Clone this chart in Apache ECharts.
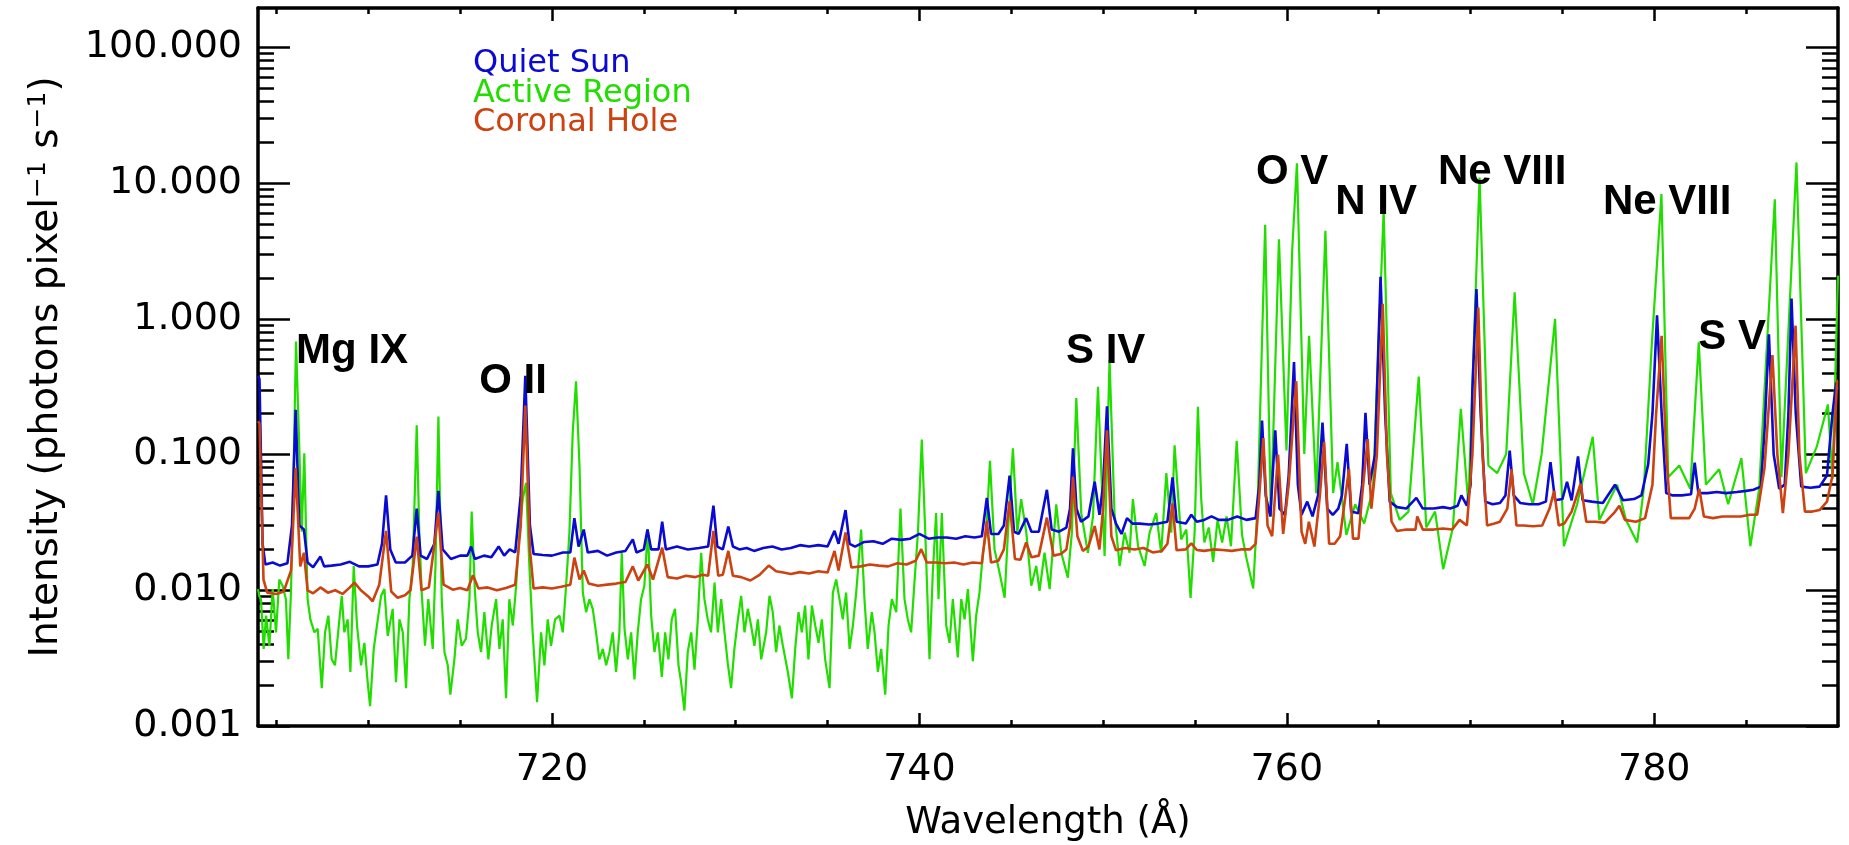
<!DOCTYPE html>
<html>
<head>
<meta charset="utf-8">
<title>EUV spectrum</title>
<script src="https://cdn.jsdelivr.net/npm/echarts@6/dist/echarts.min.js"></script>
<style>
  html, body { margin: 0; padding: 0; background: #fff; }
  #J-spectrum { width: 1849px; height: 845px; }
</style>
</head>
<body>
<div id="J-spectrum"></div>
<script>
// wavelength (Å), intensity (photons pixel^-1 s^-1)
const quietSun = [
  [704.0,0.38],[704.08,0.36],[704.25,0.022],[704.4,0.0155],[704.8,0.016],[705.2,0.0152],[705.6,0.0158],[705.85,0.03],
  [706.05,0.214],[706.25,0.03],[706.5,0.028],[706.7,0.016],[707.0,0.0148],[707.4,0.0177],[707.6,0.015],[708.0,0.0152],
  [708.5,0.0155],[709.0,0.0162],[709.5,0.015],[710.0,0.015],[710.5,0.0155],[710.75,0.022],[710.97,0.05],[711.2,0.02],
  [711.5,0.016],[712.0,0.016],[712.4,0.018],[712.64,0.04],[712.85,0.018],[713.2,0.017],[713.6,0.022],[713.82,0.054],
  [714.05,0.02],[714.5,0.017],[715.0,0.018],[715.4,0.018],[715.6,0.021],[715.8,0.017],[716.3,0.018],[716.7,0.0175],
  [717.1,0.021],[717.4,0.018],[717.7,0.02],[718.0,0.019],[718.3,0.05],[718.55,0.38],[718.8,0.03],[719.0,0.0185],
  [719.5,0.0182],[720.0,0.018],[720.6,0.019],[721.0,0.019],[721.22,0.034],[721.45,0.021],[721.73,0.028],[721.95,0.019],
  [722.5,0.0195],[723.0,0.018],[723.5,0.019],[724.0,0.0195],[724.4,0.0237],[724.6,0.019],[725.0,0.02],[725.2,0.028],
  [725.4,0.02],[725.8,0.02],[726.0,0.032],[726.2,0.02],[726.8,0.021],[727.4,0.02],[728.0,0.0205],[728.5,0.021],
  [728.79,0.042],[729.0,0.021],[729.3,0.02],[729.6,0.0295],[729.85,0.021],[730.2,0.02],[730.6,0.0205],[731.0,0.0195],
  [731.5,0.0205],[732.0,0.021],[732.5,0.02],[733.0,0.0205],[733.5,0.0215],[734.0,0.021],[734.5,0.0215],[735.0,0.021],
  [735.38,0.0274],[735.6,0.022],[735.98,0.039],[736.2,0.022],[736.5,0.021],[737.0,0.0227],[737.5,0.023],[738.0,0.022],
  [738.5,0.024],[739.0,0.0235],[739.5,0.024],[740.0,0.026],[740.5,0.024],[741.0,0.0245],[741.5,0.0245],[742.0,0.024],
  [742.5,0.025],[743.0,0.0245],[743.4,0.025],[743.67,0.048],[743.9,0.026],[744.3,0.026],[744.6,0.03],[744.91,0.07],
  [745.15,0.027],[745.4,0.026],[745.81,0.034],[746.1,0.027],[746.5,0.027],[746.94,0.055],[747.2,0.028],[747.6,0.027],
  [748.0,0.029],[748.2,0.04],[748.36,0.111],[748.55,0.04],[748.8,0.032],[749.2,0.035],[749.54,0.063],[749.8,0.036],
  [750.0,0.06],[750.21,0.227],[750.45,0.04],[750.7,0.031],[751.0,0.026],[751.3,0.034],[751.6,0.031],[752.0,0.031],
  [752.5,0.0305],[753.0,0.031],[753.5,0.032],[753.78,0.068],[754.0,0.032],[754.5,0.031],[754.8,0.036],[755.1,0.032],
  [755.5,0.033],[755.9,0.035],[756.3,0.033],[756.8,0.033],[757.3,0.035],[757.8,0.033],[758.3,0.034],[758.5,0.06],
  [758.65,0.178],[758.85,0.05],[759.1,0.035],[759.37,0.151],[759.6,0.04],[759.9,0.036],[760.1,0.07],[760.39,0.48],
  [760.6,0.06],[760.8,0.036],[761.11,0.045],[761.4,0.035],[761.7,0.05],[761.94,0.172],[762.2,0.04],[762.5,0.036],
  [762.8,0.04],[763.0,0.05],[763.26,0.12],[763.5,0.038],[763.9,0.037],[764.1,0.06],[764.28,0.203],[764.5,0.06],
  [764.8,0.1],[765.1,2.04],[765.35,0.2],[765.6,0.045],[766.0,0.041],[766.5,0.04],[767.05,0.048],[767.4,0.04],
  [768.0,0.04],[768.5,0.041],[768.9,0.04],[769.3,0.042],[769.5,0.05],[769.8,0.042],[770.0,0.06],[770.1,0.3],
  [770.32,1.66],[770.55,0.2],[770.8,0.045],[771.2,0.043],[771.6,0.044],[771.9,0.05],[772.13,0.107],[772.35,0.05],
  [772.7,0.044],[773.2,0.043],[773.7,0.043],[774.1,0.045],[774.35,0.088],[774.6,0.046],[775.0,0.047],[775.25,0.063],
  [775.5,0.046],[775.85,0.097],[776.1,0.046],[776.6,0.045],[777.2,0.044],[777.86,0.06],[778.3,0.046],[778.9,0.047],
  [779.3,0.05],[779.67,0.085],[779.9,0.2],[780.15,1.06],[780.4,0.2],[780.65,0.052],[781.0,0.05],[781.5,0.05],
  [782.0,0.051],[782.2,0.087],[782.4,0.052],[782.9,0.052],[783.4,0.053],[783.9,0.052],[784.5,0.053],[785.0,0.054],
  [785.4,0.055],[785.8,0.058],[786.0,0.15],[786.24,0.77],[786.5,0.1],[786.8,0.056],[787.1,0.06],[787.3,0.2],
  [787.47,1.41],[787.7,0.2],[788.0,0.058],[788.5,0.057],[789.0,0.058],[789.4,0.07],[789.7,0.2],[789.9,0.34],[790.0,0.3]
];

const activeRegion = [
  [704.0,0.0102],[704.07,0.009],[704.16,0.0086],[704.31,0.0037],[704.44,0.0065],[704.62,0.0039],[704.8,0.0102],[704.98,0.0049],
  [705.16,0.012],[705.34,0.0108],[705.52,0.0086],[705.65,0.0031],[705.8,0.0102],[705.94,0.082],[706.07,0.68],[706.25,0.109],
  [706.38,0.027],[706.52,0.102],[706.7,0.0086],[706.85,0.0061],[707.07,0.0049],[707.25,0.0052],[707.47,0.0019],[707.65,0.0049],
  [707.83,0.0065],[708.01,0.0031],[708.19,0.0028],[708.43,0.0061],[708.56,0.0091],[708.7,0.0049],[708.88,0.0061],[709.03,0.0025],
  [709.21,0.0151],[709.39,0.0055],[709.61,0.0028],[709.79,0.0041],[709.97,0.0021],[710.1,0.0014],[710.3,0.0037],[710.52,0.0061],
  [710.7,0.0091],[710.88,0.0102],[711.06,0.0046],[711.33,0.0073],[711.51,0.0021],[711.7,0.0061],[711.88,0.0049],[712.06,0.0019],
  [712.24,0.0086],[712.42,0.0151],[712.64,0.164],[712.78,0.0266],[712.91,0.0096],[713.09,0.0039],[713.27,0.0086],[713.51,0.0037],
  [713.66,0.0151],[713.82,0.191],[714.0,0.0086],[714.15,0.0035],[714.33,0.0028],[714.47,0.0017],[714.69,0.0031],[714.87,0.0061],
  [715.09,0.0039],[715.32,0.0044],[715.51,0.0086],[715.63,0.038],[715.81,0.0096],[715.96,0.0049],[716.14,0.0035],[716.32,0.0069],
  [716.54,0.0031],[716.72,0.0055],[716.96,0.0086],[717.14,0.0037],[717.32,0.0061],[717.5,0.0016],[717.68,0.0086],[717.87,0.0055],
  [718.05,0.0108],[718.23,0.0266],[718.41,0.047],[718.59,0.062],[718.77,0.0151],[718.95,0.0049],[719.19,0.0015],[719.41,0.0049],
  [719.59,0.0028],[719.77,0.0061],[719.95,0.0039],[720.17,0.0061],[720.41,0.0065],[720.59,0.0049],[720.77,0.0108],[720.95,0.0266],
  [721.13,0.145],[721.31,0.347],[721.5,0.082],[721.68,0.0096],[721.86,0.0069],[722.04,0.0086],[722.22,0.0073],[722.4,0.0049],
  [722.58,0.0031],[722.77,0.0037],[722.95,0.0028],[723.13,0.0035],[723.31,0.0049],[723.49,0.0025],[723.67,0.0049],[723.8,0.0189],
  [723.95,0.0052],[724.13,0.0031],[724.31,0.0049],[724.49,0.0022],[724.67,0.0049],[724.85,0.0086],[725.03,0.0108],[725.22,0.028],
  [725.4,0.0065],[725.58,0.0035],[725.76,0.0049],[725.98,0.0023],[726.16,0.0049],[726.34,0.0031],[726.52,0.0061],[726.7,0.0073],
  [726.89,0.0028],[727.03,0.0021],[727.21,0.0013],[727.39,0.0035],[727.58,0.0049],[727.76,0.0026],[727.94,0.0061],[728.12,0.0189],
  [728.3,0.0086],[728.48,0.0061],[728.66,0.0049],[728.85,0.0114],[729.03,0.0049],[729.21,0.0086],[729.39,0.0049],[729.57,0.0029],
  [729.75,0.0019],[729.93,0.0037],[730.12,0.0061],[730.3,0.0091],[730.48,0.0049],[730.66,0.0073],[730.84,0.0055],[731.02,0.0039],
  [731.21,0.0061],[731.39,0.0031],[731.66,0.0049],[731.84,0.0091],[732.02,0.0069],[732.2,0.0035],[732.38,0.0055],[732.57,0.0039],
  [732.84,0.0025],[733.06,0.0016],[733.24,0.0037],[733.42,0.0069],[733.6,0.0049],[733.78,0.0077],[733.96,0.0031],[734.15,0.0077],
  [734.33,0.0055],[734.51,0.0041],[734.69,0.0061],[734.87,0.0031],[735.11,0.0019],[735.29,0.0096],[735.47,0.012],[735.65,0.0086],
  [735.83,0.0061],[736.01,0.0096],[736.2,0.0037],[736.38,0.0055],[736.56,0.0096],[736.83,0.028],[737.01,0.0086],[737.19,0.0037],
  [737.41,0.0069],[737.56,0.0049],[737.74,0.0025],[737.92,0.0037],[738.14,0.0017],[738.32,0.0055],[738.5,0.0086],[738.74,0.0069],
  [738.97,0.04],[739.19,0.0086],[739.37,0.0061],[739.55,0.0049],[739.73,0.0114],[739.92,0.0266],[740.13,0.129],[740.32,0.0266],
  [740.55,0.0031],[740.73,0.0135],[740.91,0.037],[741.04,0.0086],[741.22,0.037],[741.46,0.0055],[741.64,0.0041],[741.82,0.0086],
  [742.09,0.0032],[742.28,0.0086],[742.46,0.0061],[742.64,0.0102],[742.91,0.003],[743.09,0.0065],[743.27,0.0096],[743.46,0.0189],
  [743.64,0.0266],[743.84,0.09],[744.09,0.02],[744.36,0.0135],[744.64,0.0088],[744.82,0.0266],[745.09,0.111],[745.33,0.0266],
  [745.54,0.047],[745.82,0.0266],[746.09,0.0108],[746.36,0.0151],[746.54,0.0099],[746.81,0.0189],[747.09,0.0102],[747.45,0.043],
  [747.72,0.0189],[748.08,0.0124],[748.3,0.0266],[748.54,0.261],[748.81,0.037],[749.17,0.0189],[749.45,0.035],[749.72,0.315],
  [750.08,0.0179],[750.35,0.5],[750.62,0.037],[750.9,0.0151],[751.17,0.0266],[751.44,0.0189],[751.62,0.047],[751.9,0.0212],
  [752.26,0.0151],[752.53,0.0266],[752.89,0.037],[753.16,0.0189],[753.44,0.073],[753.71,0.0266],[753.89,0.117],[754.25,0.0237],
  [754.53,0.028],[754.76,0.0088],[754.98,0.0266],[755.16,0.225],[755.34,0.047],[755.51,0.0225],[755.75,0.029],[755.99,0.0162],
  [756.23,0.033],[756.48,0.0225],[756.72,0.035],[756.96,0.0211],[757.27,0.126],[757.56,0.0256],[757.8,0.0173],[758.17,0.0103],
  [758.41,0.043],[758.82,4.94],[759.13,0.035],[759.57,3.85],[759.98,0.107],[760.29,3.17],[760.55,14.0],[760.95,0.101],
  [761.21,0.75],[761.6,0.052],[762.1,4.45],[762.52,0.052],[762.76,0.088],[763.24,0.0256],[763.72,0.043],[764.21,0.031],
  [764.69,0.056],[765.27,6.3],[765.66,0.052],[766.14,0.033],[766.62,0.038],[767.18,0.375],[767.59,0.029],[768.07,0.038],
  [768.51,0.0143],[769.04,0.029],[769.47,0.217],[769.88,0.043],[770.49,11.0],[770.97,0.083],[771.45,0.073],[771.94,0.101],
  [772.4,1.57],[772.9,0.073],[773.39,0.043],[773.87,0.101],[774.6,1.0],[775.08,0.0211],[775.8,0.043],[776.65,0.135],
  [777.01,0.033],[777.98,0.06],[778.46,0.033],[779.07,0.0225],[779.43,0.056],[779.86,0.63],[780.39,8.3],[780.76,0.068],
  [781.36,0.083],[781.96,0.056],[782.42,0.67],[782.81,0.06],[783.53,0.078],[784.02,0.043],[784.74,0.094],[785.23,0.0211],
  [785.71,0.056],[786.56,7.6],[786.92,0.068],[787.74,14.2],[788.25,0.073],[788.85,0.115],[789.45,0.234],[789.7,0.066],[790.0,2.08]
];

const coronalHole = [
  [704.0,0.176],[704.08,0.17],[704.3,0.012],[704.5,0.0096],[705.0,0.0094],[705.4,0.0098],[705.8,0.014],[706.05,0.08],
  [706.3,0.015],[706.5,0.0189],[706.7,0.01],[707.0,0.0095],[707.4,0.0105],[707.8,0.0096],[708.2,0.01],[708.6,0.0094],
  [709.0,0.0105],[709.25,0.0114],[709.6,0.01],[710.0,0.009],[710.24,0.0083],[710.6,0.011],[710.97,0.0274],[711.25,0.0098],
  [711.6,0.0088],[712.0,0.0092],[712.3,0.01],[712.64,0.0248],[712.9,0.01],[713.3,0.0105],[713.82,0.0373],[714.1,0.011],
  [714.6,0.0101],[715.0,0.0104],[715.4,0.01],[715.7,0.0129],[716.0,0.0103],[716.5,0.0105],[717.0,0.01],[717.5,0.0104],
  [718.0,0.011],[718.3,0.03],[718.55,0.23],[718.8,0.02],[719.0,0.0103],[719.5,0.0105],[720.0,0.0103],[720.5,0.0106],
  [721.0,0.011],[721.22,0.0174],[721.5,0.012],[721.73,0.014],[722.0,0.0112],[722.5,0.0108],[723.0,0.011],[723.5,0.0112],
  [724.0,0.0115],[724.4,0.015],[724.7,0.0118],[725.2,0.0155],[725.5,0.012],[726.0,0.0206],[726.3,0.0125],[726.8,0.0122],
  [727.3,0.0128],[727.8,0.0125],[728.2,0.013],[728.5,0.0128],[728.79,0.0274],[729.05,0.0128],[729.3,0.013],[729.6,0.0195],
  [729.85,0.0128],[730.3,0.0125],[730.8,0.0118],[731.3,0.013],[731.8,0.0152],[732.2,0.0138],[732.6,0.0135],[733.0,0.0132],
  [733.5,0.0136],[734.0,0.0133],[734.5,0.0138],[735.0,0.0135],[735.38,0.0195],[735.6,0.014],[735.98,0.0267],[736.3,0.0147],
  [736.8,0.015],[737.3,0.0155],[737.8,0.0152],[738.3,0.015],[738.8,0.0158],[739.3,0.0155],[739.8,0.0165],[740.1,0.0201],
  [740.4,0.016],[740.9,0.016],[741.4,0.0158],[741.9,0.016],[742.4,0.0155],[742.9,0.016],[743.4,0.0158],[743.67,0.0324],
  [743.9,0.016],[744.3,0.0165],[744.6,0.02],[744.91,0.0454],[745.2,0.017],[745.5,0.0168],[745.81,0.0225],[746.1,0.0175],
  [746.5,0.018],[746.94,0.0343],[747.3,0.018],[747.7,0.0185],[748.0,0.02],[748.2,0.03],[748.36,0.0686],[748.6,0.025],
  [748.9,0.0195],[749.2,0.021],[749.54,0.0297],[749.8,0.02],[750.0,0.04],[750.21,0.151],[750.45,0.025],[750.7,0.0197],
  [751.2,0.0205],[751.7,0.02],[752.2,0.0205],[752.7,0.019],[753.2,0.0195],[753.5,0.022],[753.78,0.0437],[754.0,0.0197],
  [754.5,0.02],[754.8,0.0222],[755.1,0.0198],[755.5,0.0195],[756.0,0.02],[756.5,0.0198],[757.0,0.0195],[757.5,0.02],
  [758.0,0.02],[758.3,0.022],[758.5,0.05],[758.72,0.132],[758.95,0.03],[759.2,0.025],[759.52,0.1],[759.8,0.026],
  [760.1,0.06],[760.51,0.347],[760.8,0.027],[761.0,0.022],[761.2,0.032],[761.5,0.021],[761.8,0.05],[762.03,0.124],
  [762.3,0.022],[762.6,0.022],[762.9,0.025],[763.1,0.04],[763.38,0.078],[763.6,0.024],[763.9,0.024],[764.1,0.05],
  [764.4,0.13],[764.6,0.04],[764.9,0.1],[765.22,1.29],[765.45,0.1],[765.7,0.032],[766.0,0.0273],[766.5,0.028],
  [767.0,0.028],[767.1,0.035],[767.4,0.028],[768.0,0.028],[768.5,0.0285],[769.0,0.028],[769.4,0.033],[769.8,0.03],
  [770.1,0.1],[770.42,1.21],[770.65,0.1],[770.9,0.03],[771.3,0.031],[771.6,0.032],[772.0,0.04],[772.23,0.078],
  [772.5,0.03],[772.9,0.03],[773.4,0.0296],[773.9,0.03],[774.3,0.04],[774.55,0.054],[774.8,0.03],[775.1,0.031],
  [775.5,0.038],[775.99,0.061],[776.3,0.032],[776.8,0.032],[777.3,0.0315],[777.8,0.037],[778.1,0.042],[778.4,0.033],
  [779.0,0.032],[779.5,0.034],[779.9,0.06],[780.1,0.2],[780.4,0.75],[780.65,0.1],[780.9,0.034],[781.4,0.034],
  [781.9,0.034],[782.2,0.04],[782.45,0.056],[782.7,0.035],[783.2,0.034],[783.7,0.035],[784.2,0.035],[784.7,0.035],
  [785.2,0.036],[785.6,0.036],[786.0,0.08],[786.43,0.54],[786.7,0.1],[787.0,0.037],[787.3,0.1],[787.69,0.89],
  [787.9,0.1],[788.2,0.038],[788.6,0.038],[789.0,0.039],[789.4,0.045],[789.7,0.07],[789.95,0.35],[790.0,0.35]
];

// ion labels: name, wavelength of label centre, intensity of label centre
const lineNames = ['Mg IX', 'O II', 'S IV', 'O V', 'N IV', 'Ne VIII', 'Ne VIII', 'S V'];
const lineWaves = [709.12, 717.88, 750.14, 760.29, 764.86, 771.72, 780.7, 784.24];
const lineLevels = [0.575, 0.344, 0.575, 11.9, 7.25, 11.9, 7.25, 0.725];

const majorWaves = [720, 740, 760, 780];
const minorWaves = [705, 710, 715, 725, 730, 735, 745, 750, 755, 765, 770, 775, 785];
const decades = [0.001, 0.01, 0.1, 1, 10, 100];
const minorIntensity = [
  0.002, 0.003, 0.004, 0.005, 0.006, 0.007, 0.008, 0.009,
  0.02, 0.03, 0.04, 0.05, 0.06, 0.07, 0.08, 0.09,
  0.2, 0.3, 0.4, 0.5, 0.6, 0.7, 0.8, 0.9,
  2, 3, 4, 5, 6, 7, 8, 9,
  20, 30, 40, 50, 60, 70, 80, 90
];

const BLUE = '#0a0ad2';
const GREEN = '#22dd00';
const RED = '#cc4210';
const FONT = "'DejaVu Sans', sans-serif";

(function() {
    const X_MIN = 704, X_MAX = 790;
    const Y_MIN = 0.001, Y_MAX = 195;
    const lineStyle = { color: '#000', width: 3.5 };
    const tickStyle = { color: '#000', width: 2.5 };

    function xAxis(position, ticks, len, withLine, withLabels) {
        const axis = {
            type: 'value', min: X_MIN, max: X_MAX, position: position,
            axisLine: { show: withLine, onZero: false, lineStyle: lineStyle },
            axisTick: { show: true, inside: true, length: len, customValues: ticks, lineStyle: tickStyle },
            axisLabel: { show: false },
            splitLine: { show: false }
        };
        if (withLabels) {
            axis.axisLabel = {
                show: true, customValues: majorWaves, margin: 25,
                color: '#000', fontFamily: FONT, fontSize: 38
            };
            axis.name = 'Wavelength (Å)';
            axis.nameLocation = 'middle';
            axis.nameGap = 79;
            axis.nameTextStyle = { color: '#000', fontFamily: FONT, fontSize: 37 };
        }
        return axis;
    }

    function yAxis(position, ticks, len, withLine, withLabels) {
        const axis = {
            type: 'log', logBase: 10, min: Y_MIN, max: Y_MAX, position: position,
            axisLine: { show: withLine, lineStyle: lineStyle },
            axisTick: { show: true, inside: true, length: len, customValues: ticks, lineStyle: tickStyle },
            axisLabel: { show: false },
            splitLine: { show: false }
        };
        if (withLabels) {
            axis.axisLabel = {
                show: true, customValues: decades, margin: 16,
                color: '#000', fontFamily: FONT, fontSize: 38,
                formatter: v => Number(v).toFixed(3)
            };
            axis.name = 'Intensity (photons pixel{sup|−1} s{sup|−1})';
            axis.nameLocation = 'middle';
            axis.nameGap = 190;
            axis.nameTextStyle = {
                color: '#000', fontFamily: FONT, fontSize: 39, lineHeight: 42,
                rich: { sup: { fontFamily: FONT, fontSize: 25, verticalAlign: 'top', lineHeight: 42 } }
            };
        }
        return axis;
    }

    const option = {
        animation: false,
        backgroundColor: '#fff',
        grid: { left: 258, right: 11, top: 8, bottom: 119, outerBoundsMode: 'none' },
        legend: {
            orient: 'vertical', left: 463, top: 43,
            icon: 'none', itemWidth: 0, itemHeight: 28, itemGap: -2.5,
            selectedMode: false,
            textStyle: { fontFamily: FONT, fontSize: 32, lineHeight: 28 },
            data: [
                { name: 'Quiet Sun', textStyle: { color: BLUE } },
                { name: 'Active Region', textStyle: { color: GREEN } },
                { name: 'Coronal Hole', textStyle: { color: RED } }
            ]
        },
        xAxis: [
            xAxis('bottom', majorWaves, 13, true, true),
            xAxis('bottom', minorWaves, 6, false, false),
            xAxis('top', majorWaves, 13, true, false),
            xAxis('top', minorWaves, 6, false, false)
        ],
        yAxis: [
            yAxis('left', decades, 32, true, true),
            yAxis('left', minorIntensity, 16, false, false),
            yAxis('right', decades, 32, true, false),
            yAxis('right', minorIntensity, 16, false, false)
        ],
        series: [
            {
                name: 'Active Region', type: 'line', data: activeRegion,
                showSymbol: false, clip: true,
                lineStyle: { color: GREEN, width: 2.2 }, itemStyle: { color: GREEN }
            },
            {
                name: 'Quiet Sun', type: 'line', data: quietSun,
                showSymbol: false, clip: true,
                lineStyle: { color: BLUE, width: 2.6 }, itemStyle: { color: BLUE }
            },
            {
                name: 'Coronal Hole', type: 'line', data: coronalHole,
                showSymbol: false, clip: true,
                lineStyle: { color: RED, width: 2.6 }, itemStyle: { color: RED }
            },
            {
                name: 'ions', type: 'scatter', z: 10, silent: true,
                symbolSize: 0, itemStyle: { color: '#000', opacity: 1 },
                data: lineNames.map((n, i) => ({ name: n, value: [lineWaves[i], lineLevels[i]] })),
                label: {
                    show: true, position: 'inside', formatter: p => p.name,
                    color: '#000', opacity: 1, textBorderWidth: 0, textShadowBlur: 0,
                    fontFamily: "'Liberation Sans', Arial, sans-serif",
                    fontWeight: 'bold', fontSize: 42
                }
            }
        ]
    };

    const chart = echarts.init(document.getElementById('J-spectrum'), null, { renderer: 'canvas' });
    chart.setOption(option);
})();
</script>
</body>
</html>
